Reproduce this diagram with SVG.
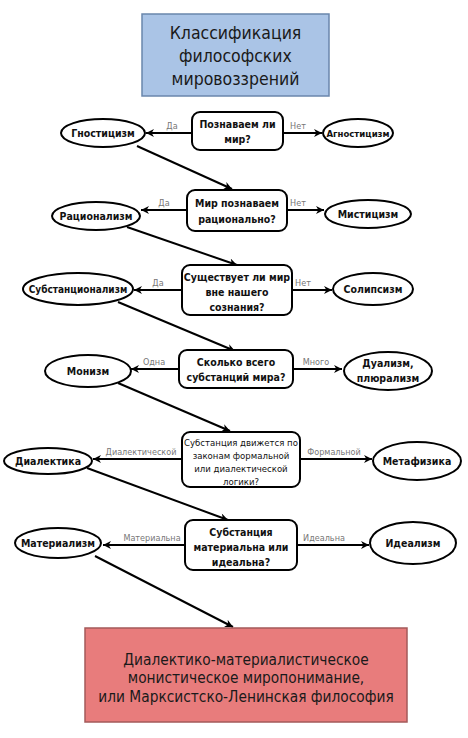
<svg xmlns="http://www.w3.org/2000/svg" width="468" height="738" viewBox="0 0 468 738">
<defs>
<marker id="ah" viewBox="0 0 10 10" refX="10" refY="5" markerWidth="10" markerHeight="8" markerUnits="userSpaceOnUse" orient="auto">
<path d="M0,0 L10,5 L0,10 L3,5 Z" fill="#000"/>
</marker>
<style>
.q{fill:#fff;stroke:#000;stroke-width:2}
.e{fill:#fff;stroke:#000;stroke-width:2}
.t{font-family:"DejaVu Sans Condensed","DejaVu Sans",sans-serif;font-size:10.5px;fill:#111;text-anchor:middle}
.b{font-weight:bold}
.s95{font-size:9.5px}
.s10{font-size:10px}
.lbl{font-family:"DejaVu Sans Condensed","DejaVu Sans",sans-serif;font-size:9px;fill:#777;text-anchor:middle}
.c{stroke:#000;stroke-width:2;fill:none;marker-end:url(#ah)}
.big{font-family:"DejaVu Sans Condensed","DejaVu Sans",sans-serif;fill:#1a1a1a;text-anchor:middle}
</style>
</defs>
<rect width="468" height="738" fill="#fff"/>

<g id="title">
<rect x="142" y="14" width="187" height="82" fill="#aac4e6" stroke="#6a86ac" stroke-width="1.5"/>
<text class="big" font-size="17.5" x="235.5" y="39">Классификация</text>
<text class="big" font-size="17.5" x="235.5" y="62">философских</text>
<text class="big" font-size="17.5" x="235.5" y="85">мировоззрений</text>
</g>

<g id="connectors">
<line class="c" x1="192" y1="133" x2="146" y2="133"/>
<line class="c" x1="283" y1="133" x2="322" y2="133"/>
<line class="c" x1="137" y1="146" x2="232" y2="189"/>
<line class="c" x1="187" y1="210" x2="141" y2="210"/>
<line class="c" x1="287" y1="210" x2="324" y2="210"/>
<line class="c" x1="127" y1="227" x2="237" y2="265"/>
<line class="c" x1="182" y1="290" x2="134" y2="290"/>
<line class="c" x1="292" y1="290" x2="332" y2="290"/>
<line class="c" x1="118" y1="302" x2="235" y2="351"/>
<line class="c" x1="179" y1="369" x2="131" y2="369"/>
<line class="c" x1="293" y1="369" x2="342" y2="369"/>
<line class="c" x1="118" y1="383" x2="230" y2="431"/>
<line class="c" x1="182" y1="459" x2="93" y2="459"/>
<line class="c" x1="300" y1="459" x2="372" y2="459"/>
<line class="c" x1="87" y1="468" x2="228" y2="520"/>
<line class="c" x1="185" y1="545" x2="103" y2="545"/>
<line class="c" x1="297" y1="545" x2="369" y2="545"/>
<line class="c" x1="95" y1="556" x2="233" y2="627"/>
<text class="lbl" x="172" y="129">Да</text>
<text class="lbl" x="298" y="129">Нет</text>
<text class="lbl" x="164" y="206">Да</text>
<text class="lbl" x="298" y="206">Нет</text>
<text class="lbl" x="158" y="286">Да</text>
<text class="lbl" x="303" y="286">Нет</text>
<text class="lbl" x="154" y="365">Одна</text>
<text class="lbl" x="316" y="365">Много</text>
<text class="lbl" x="141" y="455">Диалектической</text>
<text class="lbl" x="334" y="455">Формальной</text>
<text class="lbl" x="152" y="541">Материальна</text>
<text class="lbl" x="324" y="541">Идеальна</text>
</g>

<g id="q1">
<rect class="q" x="192" y="112" width="91" height="38" rx="8"/>
<text class="t b" x="237.5" y="128">Познаваем ли</text>
<text class="t b" x="237.5" y="143">мир?</text>
</g>
<g id="gnost"><ellipse class="e" cx="103" cy="133" rx="42" ry="14"/><text class="t b" x="103" y="137">Гностицизм</text></g>
<g id="agnost"><ellipse class="e" cx="358" cy="133" rx="35" ry="14"/><text class="t b s95" x="358" y="137">Агностицизм</text></g>

<g id="q2">
<rect class="q" x="187" y="190" width="100" height="41" rx="8"/>
<text class="t b" x="237" y="207">Мир познаваем</text>
<text class="t b" x="237" y="223">рационально?</text>
</g>
<g id="ration"><ellipse class="e" cx="96" cy="216" rx="44" ry="14"/><text class="t b" x="96" y="220">Рационализм</text></g>
<g id="mystic"><ellipse class="e" cx="368" cy="214" rx="43" ry="14"/><text class="t b" x="368" y="218">Мистицизм</text></g>

<g id="q3">
<rect class="q" x="182" y="265" width="110" height="50" rx="8"/>
<text class="t b" x="237" y="281">Существует ли мир</text>
<text class="t b" x="237" y="296">вне нашего</text>
<text class="t b" x="237" y="311">сознания?</text>
</g>
<g id="subst"><ellipse class="e" cx="78" cy="289" rx="55" ry="16"/><text class="t b s10" x="78" y="293">Субстанционализм</text></g>
<g id="solip"><ellipse class="e" cx="373" cy="289" rx="40" ry="16"/><text class="t b" x="373" y="293">Солипсизм</text></g>

<g id="q4">
<rect class="q" x="179" y="350" width="114" height="38" rx="8"/>
<text class="t b" x="236" y="366">Сколько всего</text>
<text class="t b" x="236" y="381">субстанций мира?</text>
</g>
<g id="monism"><ellipse class="e" cx="88" cy="371" rx="43" ry="16"/><text class="t b" x="88" y="375">Монизм</text></g>
<g id="dualism"><ellipse class="e" cx="388" cy="371" rx="44" ry="19"/><text class="t b" x="388" y="367">Дуализм,</text><text class="t b" x="388" y="382">плюрализм</text></g>

<g id="q5">
<rect class="q" x="182" y="432" width="118" height="55" rx="8"/>
<text class="t s95" x="241" y="446">Субстанция движется по</text>
<text class="t s95" x="241" y="459">законам формальной</text>
<text class="t s95" x="241" y="472">или диалектической</text>
<text class="t s95" x="241" y="485">логики?</text>
</g>
<g id="dialect"><ellipse class="e" cx="48" cy="461" rx="44" ry="13"/><text class="t b" x="48" y="465">Диалектика</text></g>
<g id="metaph"><ellipse class="e" cx="417" cy="461" rx="44" ry="19"/><text class="t b" x="417" y="465">Метафизика</text></g>

<g id="q6">
<rect class="q" x="185" y="520" width="112" height="50" rx="8"/>
<text class="t b" x="241" y="536">Субстанция</text>
<text class="t b" x="241" y="551">материальна или</text>
<text class="t b" x="241" y="566">идеальна?</text>
</g>
<g id="mater"><ellipse class="e" cx="58" cy="543" rx="43" ry="15"/><text class="t b" x="58" y="547">Материализм</text></g>
<g id="ideal"><ellipse class="e" cx="413" cy="543" rx="43" ry="21"/><text class="t b" x="413" y="547">Идеализм</text></g>

<g id="result">
<rect x="85" y="628" width="322" height="94" fill="#e87c7c" stroke="#a45a5a" stroke-width="1.5"/>
<text class="big" font-size="15.3" x="246" y="665">Диалектико-материалистическое</text>
<text class="big" font-size="15.3" x="246" y="683">монистическое миропонимание,</text>
<text class="big" font-size="15.3" x="246" y="702">или Марксистско-Ленинская философия</text>
</g>
</svg>
